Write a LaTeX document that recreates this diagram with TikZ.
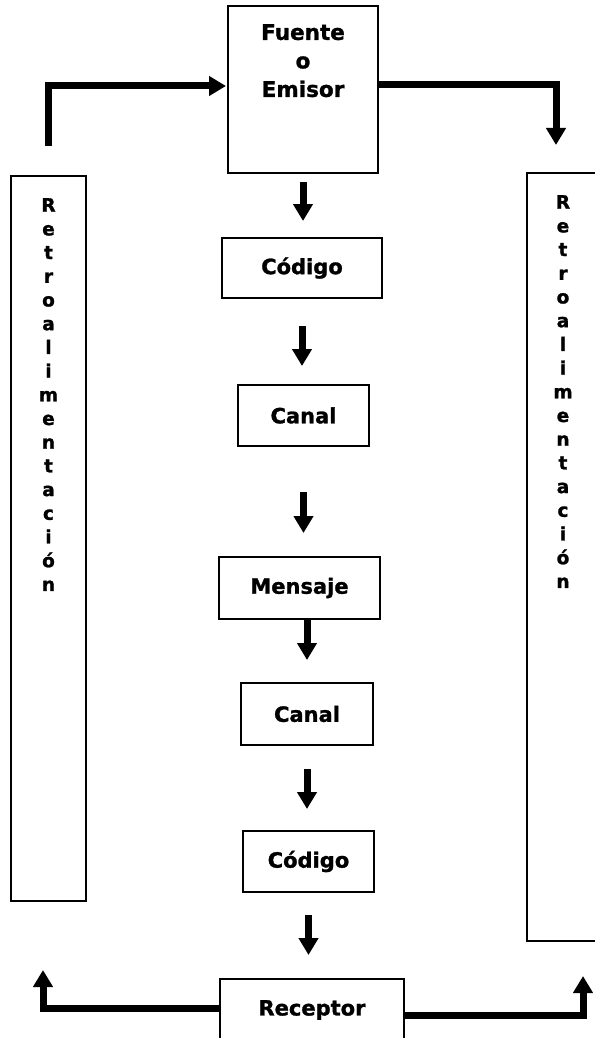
\documentclass[tikz,border=0pt]{standalone}
\usepackage{fontspec}
\setmainfont[BoldFeatures={FakeBold=1.3}]{DejaVu Sans}
\usetikzlibrary{positioning,arrows.meta}

\begin{document}
\begin{tikzpicture}[
    x=1pt, y=-1pt,
    caja/.style={draw, rectangle, line width=1.3pt, inner sep=2pt, outer sep=0pt,
                 font=\bfseries\fontsize{21}{28.5}\selectfont, align=center},
    titulo/.style={font=\bfseries\fontsize{21.5}{28.5}\selectfont, align=center,
                   inner sep=0pt, anchor=north},
    letras/.style={font=\bfseries\fontsize{18.5}{23.7}\selectfont, align=center,
                   inner sep=0pt, anchor=north, yshift=-22pt},
    ar/.style={-{Triangle[length=17pt,width=19pt]}, line width=7pt},
]
\useasboundingbox (0,0) rectangle (594,1038);

\node[caja, minimum width=150pt, minimum height=167pt,
      label={[titulo, yshift=-18pt]north:{Fuente\\o\\Emisor}}] (fuente) at (303,89.5) {};
\node[caja, minimum width=160pt, minimum height=60pt, below=65pt of fuente, xshift=-1pt] (cod1) {Código};
\node[caja, minimum width=131pt, minimum height=61pt, below=87pt of cod1, xshift=1.5pt] (canal1) {Canal};
\node[caja, minimum width=161pt, minimum height=62pt, below=111pt of canal1, xshift=-4pt] (mensaje) {Mensaje};
\node[caja, minimum width=132pt, minimum height=62pt, below=64pt of mensaje, xshift=7.5pt] (canal2) {Canal};
\node[caja, minimum width=131pt, minimum height=61pt, below=86pt of canal2, xshift=1.5pt] (cod2) {Código};
\node[caja, minimum width=184pt, minimum height=62pt, below=87pt of cod2, xshift=3.5pt] (receptor) {Receptor};

\node[caja, minimum width=75pt, minimum height=725pt,
      label={[letras]north:{R\\e\\t\\r\\o\\a\\l\\i\\m\\e\\n\\t\\a\\c\\i\\ó\\n}}] (retroL) at (48.5,538.5) {};
\node[caja, minimum width=72pt, minimum height=768pt,
      label={[letras]north:{R\\e\\t\\r\\o\\a\\l\\i\\m\\e\\n\\t\\a\\c\\i\\ó\\n}}] (retroR) at (563,557) {};

\draw[ar, shorten <=9pt, shorten >=17pt] (fuente.south) -- (fuente.south |- cod1.north);
\draw[ar, shorten <=28pt, shorten >=19pt] (cod1.south) -- (cod1.south |- canal1.north);
\draw[ar, shorten <=46pt, shorten >=24pt] (canal1.south) -- (canal1.south |- mensaje.north);
\draw[ar, shorten >=23pt] ([xshift=7.5pt]mensaje.south) -- ([xshift=7.5pt]mensaje.south |- canal2.north);
\draw[ar, shorten <=24pt, shorten >=22pt] (canal2.south) -- (canal2.south |- cod2.north);
\draw[ar, shorten <=23pt, shorten >=24pt] (cod2.south) -- (cod2.south |- receptor.north);

\draw[ar, shorten <=30pt, shorten >=2pt] (retroL.north) |- ([yshift=3.5pt]fuente.west);
\draw[ar, shorten >=28pt] ([yshift=4.5pt]fuente.east) -| ([xshift=-7pt]retroR.north);
\draw[ar, shorten >=69pt] ([yshift=2pt]receptor.west) -| ([xshift=-5.5pt]retroL.south);
\draw[ar, shorten >=35pt] ([yshift=-5pt]receptor.east) -| ([xshift=20pt]retroR.south);
\end{tikzpicture}
\end{document}
